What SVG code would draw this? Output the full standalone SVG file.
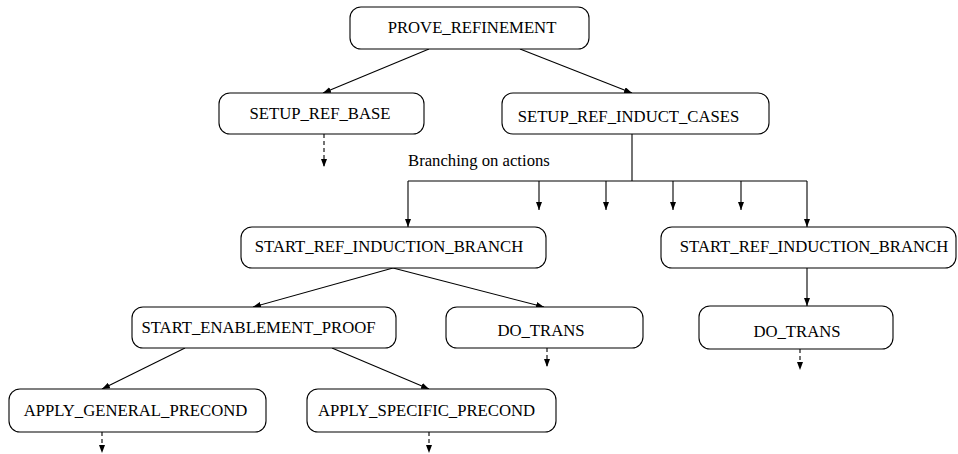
<svg xmlns="http://www.w3.org/2000/svg" width="958" height="454" viewBox="0 0 958 454">
<style>
.box{fill:#fff;stroke:#000;stroke-width:1.1}
.t{font-family:"Liberation Serif","Times New Roman",serif;font-size:16.7px;fill:#000;text-anchor:middle}
.lab{font-family:"Liberation Serif","Times New Roman",serif;font-size:16.7px;fill:#000}
.e{stroke:#000;stroke-width:1.1;fill:none}
.a{marker-end:url(#ah)}
.d{stroke-dasharray:4 3}
</style>
<defs>
<marker id="ah" markerUnits="userSpaceOnUse" markerWidth="8" markerHeight="6" refX="8" refY="3" orient="auto">
<path d="M0,0 L8,3 L0,6 z" fill="#000"/>
</marker>
</defs>
<rect width="958" height="454" fill="#fff"/>
<g id="connectors">
<line class="e a" x1="429" y1="49" x2="323" y2="93"/>
<line class="e a" x1="520" y1="49" x2="632" y2="93"/>
<line class="e a d" x1="324" y1="134" x2="324" y2="167"/>
<line class="e" x1="632" y1="134" x2="632" y2="181"/>
<line class="e" x1="408" y1="181" x2="807" y2="181"/>
<line class="e a" x1="408" y1="181" x2="408" y2="227"/>
<line class="e a" x1="539" y1="181" x2="539" y2="210"/>
<line class="e a" x1="606" y1="181" x2="606" y2="210"/>
<line class="e a" x1="673" y1="181" x2="673" y2="210"/>
<line class="e a" x1="741" y1="181" x2="741" y2="210"/>
<line class="e a" x1="807" y1="181" x2="807" y2="227"/>
<line class="e a" x1="393" y1="268" x2="253" y2="307"/>
<line class="e a" x1="393" y1="268" x2="544" y2="307"/>
<line class="e a" x1="807" y1="268" x2="807" y2="306"/>
<line class="e a d" x1="547" y1="348" x2="547" y2="367"/>
<line class="e a d" x1="800" y1="349" x2="800" y2="370"/>
<line class="e a" x1="185" y1="348" x2="102" y2="389"/>
<line class="e a" x1="332" y1="348" x2="429" y2="389"/>
<line class="e a d" x1="102" y1="432" x2="102" y2="453"/>
<line class="e a d" x1="429" y1="432" x2="429" y2="453"/>
</g>
<text class="lab" x="408" y="166">Branching on actions</text>
<g id="prove_refinement">
<rect class="box" x="350" y="7" width="239" height="42" rx="11"/>
<text class="t" x="472" y="33">PROVE_REFINEMENT</text>
</g>
<g id="setup_ref_base">
<rect class="box" x="219" y="93" width="205" height="41" rx="11"/>
<text class="t" x="320" y="119">SETUP_REF_BASE</text>
</g>
<g id="setup_ref_induct_cases">
<rect class="box" x="502" y="93" width="267" height="41" rx="11"/>
<text class="t" x="628.5" y="122">SETUP_REF_INDUCT_CASES</text>
</g>
<g id="start_ref_induction_branch_1">
<rect class="box" x="241" y="227" width="305" height="41" rx="11"/>
<text class="t" x="389" y="252">START_REF_INDUCTION_BRANCH</text>
</g>
<g id="start_ref_induction_branch_2">
<rect class="box" x="661" y="227" width="295" height="41" rx="11"/>
<text class="t" x="814" y="252">START_REF_INDUCTION_BRANCH</text>
</g>
<g id="start_enablement_proof">
<rect class="box" x="132" y="307" width="264" height="41" rx="11"/>
<text class="t" x="258.5" y="333">START_ENABLEMENT_PROOF</text>
</g>
<g id="do_trans_1">
<rect class="box" x="446" y="307" width="197" height="41" rx="11"/>
<text class="t" x="541" y="336">DO_TRANS</text>
</g>
<g id="do_trans_2">
<rect class="box" x="699" y="306" width="194" height="43" rx="11"/>
<text class="t" x="797" y="337">DO_TRANS</text>
</g>
<g id="apply_general_precond">
<rect class="box" x="9" y="389" width="257" height="43" rx="11"/>
<text class="t" x="135.5" y="416">APPLY_GENERAL_PRECOND</text>
</g>
<g id="apply_specific_precond">
<rect class="box" x="307" y="389" width="249" height="43" rx="11"/>
<text class="t" x="426.5" y="416">APPLY_SPECIFIC_PRECOND</text>
</g>
</svg>
